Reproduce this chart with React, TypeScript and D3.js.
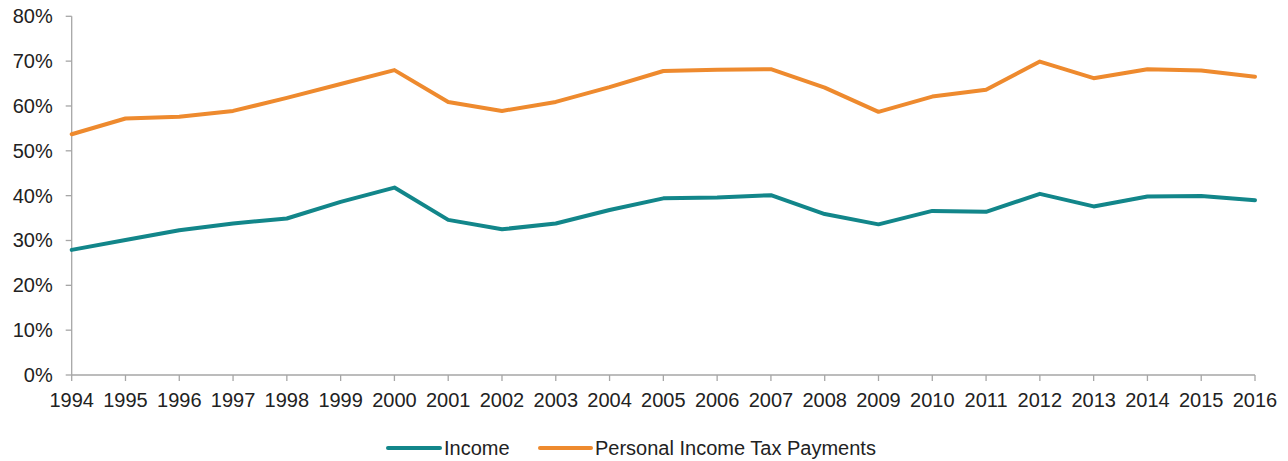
import React from "react";
import * as d3 from "d3";

const years = [
  "1994", "1995", "1996", "1997", "1998", "1999", "2000", "2001", "2002", "2003", "2004",
  "2005", "2006", "2007", "2008", "2009", "2010", "2011", "2012", "2013", "2014", "2015", "2016",
];
const income = [
  27.9, 30.1, 32.3, 33.8, 34.9, 38.6, 41.8, 34.6, 32.5, 33.8, 36.8,
  39.4, 39.6, 40.1, 35.9, 33.6, 36.6, 36.4, 40.4, 37.6, 39.8, 39.9, 39.0,
];
const taxPayments = [
  53.7, 57.2, 57.6, 58.9, 61.8, 64.9, 68.0, 60.9, 58.9, 60.9, 64.2,
  67.8, 68.1, 68.2, 64.1, 58.7, 62.1, 63.6, 69.9, 66.2, 68.2, 67.9, 66.5,
];
const yTicks = [0, 10, 20, 30, 40, 50, 60, 70, 80];
const seriesNames = ["Income", "Personal Income Tax Payments"];
const seriesColors = ["#12868a", "#ee8a2e"];

const W = 1288;
const H = 461;
const margin = { left: 71.7, right: 33, top: 16.3, bottom: 86 };
const font = "'Liberation Sans', Arial, sans-serif";
const fs = 20;

export default function App() {
  const x = d3
    .scalePoint<string>()
    .domain(years)
    .range([margin.left, W - margin.right]);
  const y = d3
    .scaleLinear()
    .domain([0, 80])
    .range([H - margin.bottom, margin.top]);
  const line = d3
    .line<number>()
    .x((_, i) => x(years[i]) as number)
    .y((d) => y(d));
  const series = [income, taxPayments];
  const axisColor = "#a6a6a6";
  const y0 = y(0);

  const legendItems = [
    { x0: 388, x1: 440, tx: 444 },
    { x0: 540, x1: 591, tx: 595 },
  ];

  return (
    <div style={{ position: "absolute", left: 0, top: 0 }}>
      <svg width={W} height={H} style={{ display: "block", background: "#fff" }}>
        <line x1={margin.left} x2={margin.left} y1={y(80)} y2={y0} stroke={axisColor} strokeWidth={1.3} />
        {yTicks.map((t) => (
          <g key={t}>
            <line x1={margin.left - 6} x2={margin.left} y1={y(t)} y2={y(t)} stroke={axisColor} strokeWidth={1.3} />
            <text
              x={margin.left - 19}
              y={y(t)}
              dy="0.35em"
              textAnchor="end"
              fontFamily={font}
              fontSize={fs}
              fill="#222"
            >
              {t}%
            </text>
          </g>
        ))}
        <line x1={margin.left} x2={W - margin.right} y1={y0} y2={y0} stroke={axisColor} strokeWidth={1.3} />
        {years.map((yr) => (
          <g key={yr}>
            <line x1={x(yr)} x2={x(yr)} y1={y0} y2={y0 + 6} stroke={axisColor} strokeWidth={1.3} />
            <text
              x={x(yr)}
              y={y0 + 32}
              textAnchor="middle"
              fontFamily={font}
              fontSize={fs}
              fill="#222"
            >
              {yr}
            </text>
          </g>
        ))}
        {series.map((s, i) => (
          <path
            key={i}
            d={line(s) || ""}
            fill="none"
            stroke={seriesColors[i]}
            strokeWidth={4}
            strokeLinejoin="round"
            strokeLinecap="round"
          />
        ))}
        {legendItems.map((it, i) => (
          <g key={i}>
            <line
              x1={it.x0}
              x2={it.x1}
              y1={448}
              y2={448}
              stroke={seriesColors[i]}
              strokeWidth={4}
              strokeLinecap="round"
            />
            <text x={it.tx} y={448} dy="0.35em" fontFamily={font} fontSize={fs} fill="#222">
              {seriesNames[i]}
            </text>
          </g>
        ))}
      </svg>
    </div>
  );
}
